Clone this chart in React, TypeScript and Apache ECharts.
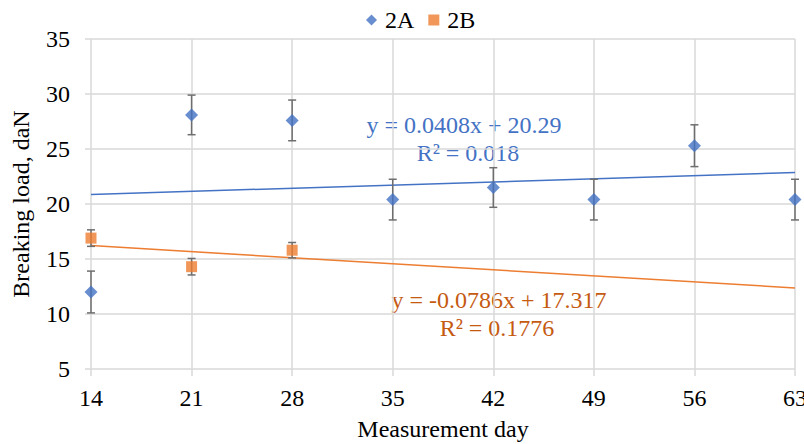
import React, { useEffect, useRef } from "react";
import * as echarts from "echarts";

const days = [14, 21, 28, 35, 42, 49, 56, 63];
const loadA = [12.0, 28.1, 27.6, 20.4, 21.5, 20.4, 25.3, 20.4];
const errA = [1.9, 1.8, 1.85, 1.85, 1.8, 1.85, 1.9, 1.85];
const daysB = [14, 21, 28];
const loadB = [16.9, 14.3, 15.8];
const errB = [0.75, 0.75, 0.7];
const seriesNames = ["2A", "2B"];
const trendSlope = [0.0408, -0.0786];
const trendIntercept = [20.29, 17.317];
const eqLines = ["y = 0.0408x + 20.29", "y = -0.0786x + 17.317"];
const r2Lines = ["R² = 0.018", "R² = 0.1776"];
const yTicks = { min: 5, max: 35, step: 5 };
const xTicks = { min: 14, max: 63, step: 7 };

const BLUE = "#4472C4";
const ORANGE = "#ED7D31";
const ORANGE_TEXT = "#C55A11";
const GRID = "#D9D9D9";
const ERR = "#6E6E6E";
const FONT = '"Liberation Serif", "Times New Roman", serif';

function errorSeries(xs: number[], ys: number[], es: number[]) {
  return {
    type: "custom",
    silent: true,
    z: 1,
    clip: false,
    data: xs.map((x, i) => [x, ys[i], es[i]]),
    encode: { x: 0, y: 1 },
    renderItem: (params: any, api: any) => {
      const x = api.value(0);
      const y = api.value(1);
      const e = api.value(2);
      const top = api.coord([x, y + e]);
      const bot = api.coord([x, y - e]);
      const h = 4;
      const st = { stroke: ERR, lineWidth: 1.5 };
      return {
        type: "group",
        children: [
          { type: "line", shape: { x1: top[0], y1: top[1], x2: bot[0], y2: bot[1] }, style: st },
          { type: "line", shape: { x1: top[0] - h, y1: top[1], x2: top[0] + h, y2: top[1] }, style: st },
          { type: "line", shape: { x1: bot[0] - h, y1: bot[1], x2: bot[0] + h, y2: bot[1] }, style: st },
        ],
      };
    },
  };
}

function trend(i: number) {
  const xs = [xTicks.min, xTicks.max];
  return xs.map((x) => [x, trendSlope[i] * x + trendIntercept[i]]);
}

export default function App() {
  const ref = useRef<HTMLDivElement>(null);
  useEffect(() => {
    document.body.style.margin = "0";
    const chart = echarts.init(ref.current!, null, { renderer: "svg" });
    const textStyle = { fontFamily: FONT, fontSize: 24, color: "#000" };
    chart.setOption({
      animation: false,
      backgroundColor: "#fff",
      textStyle: { fontFamily: FONT },
      grid: { left: 91, right: 9, top: 39, bottom: 75, containLabel: false, outerBoundsMode: "none" },
      legend: {
        data: [
          { name: seriesNames[0], icon: "diamond" },
          { name: seriesNames[1], icon: "rect" },
        ],
        top: 4,
        left: 352,
        itemWidth: 11,
        itemHeight: 11,
        itemGap: 14,
        padding: [4, 14, 4, 14],
        backgroundColor: "#fff",
        textStyle: { ...textStyle, padding: [0, 0, 0, 3] },
        z: 10,
      },
      xAxis: {
        type: "value",
        min: xTicks.min,
        max: xTicks.max,
        interval: xTicks.step,
        name: "Measurement day",
        nameLocation: "middle",
        nameGap: 48,
        nameTextStyle: textStyle,
        axisLine: { show: false },
        axisTick: { show: true, length: 7, lineStyle: { color: GRID, width: 1.5 } },
        axisLabel: { ...textStyle, margin: 17 },
        splitLine: { show: true, lineStyle: { color: GRID, width: 1.5 } },
      },
      yAxis: {
        type: "value",
        min: yTicks.min,
        max: yTicks.max,
        interval: yTicks.step,
        name: "Breaking load, daN",
        nameLocation: "middle",
        nameGap: 58,
        nameTextStyle: textStyle,
        axisLine: { show: false },
        axisTick: { show: true, length: 6, lineStyle: { color: GRID, width: 1.5 } },
        axisLabel: { ...textStyle, margin: 21 },
        splitLine: { show: true, lineStyle: { color: GRID, width: 1.5 } },
      },
      series: [
        {
          name: seriesNames[0] + " trend",
          type: "line",
          data: trend(0),
          showSymbol: false,
          silent: true,
          lineStyle: { color: BLUE, width: 1.5 },
          z: 0,
        },
        {
          name: seriesNames[1] + " trend",
          type: "line",
          data: trend(1),
          showSymbol: false,
          silent: true,
          lineStyle: { color: ORANGE, width: 1.5 },
          z: 0,
        },
        errorSeries(days, loadA, errA),
        errorSeries(daysB, loadB, errB),
        {
          name: seriesNames[0],
          type: "scatter",
          symbol: "diamond",
          symbolSize: 13,
          clip: false,
          itemStyle: { color: BLUE },
          data: days.map((d, i) => [d, loadA[i]]),
          z: 3,
        },
        {
          name: seriesNames[1],
          type: "scatter",
          symbol: "rect",
          symbolSize: 11,
          clip: false,
          itemStyle: { color: ORANGE },
          data: daysB.map((d, i) => [d, loadB[i]]),
          z: 3,
        },
      ],
      graphic: [
        { type: "text", x: 464, y: 125, style: { text: eqLines[0], font: `24px ${FONT}`, fill: BLUE, textAlign: "center", textVerticalAlign: "middle" } },
        { type: "text", x: 468, y: 153, style: { text: r2Lines[0], font: `24px ${FONT}`, fill: BLUE, textAlign: "center", textVerticalAlign: "middle" } },
        { type: "text", x: 499, y: 300, style: { text: eqLines[1], font: `24px ${FONT}`, fill: ORANGE_TEXT, textAlign: "center", textVerticalAlign: "middle" } },
        { type: "text", x: 497, y: 328, style: { text: r2Lines[1], font: `24px ${FONT}`, fill: ORANGE_TEXT, textAlign: "center", textVerticalAlign: "middle" } },
      ],
    });
    return () => chart.dispose();
  }, []);
  return <div ref={ref} style={{ width: 804, height: 444 }} />;
}
